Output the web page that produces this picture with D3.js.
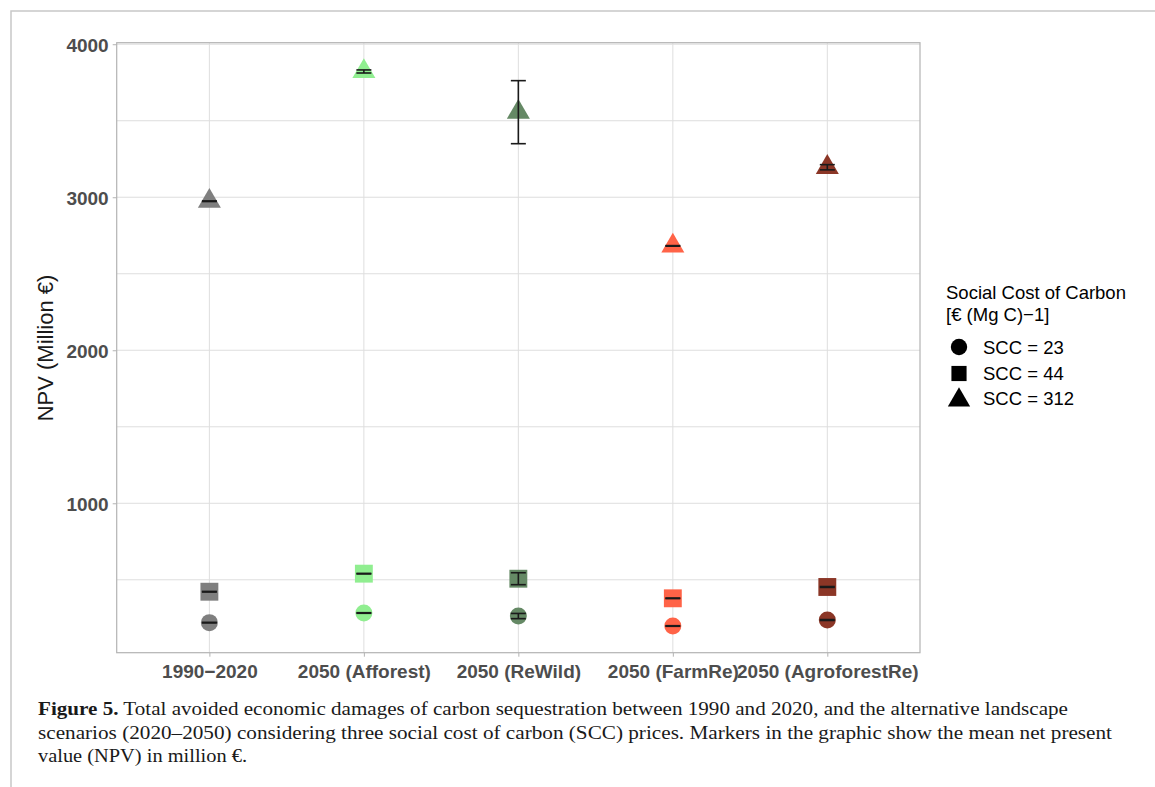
<!DOCTYPE html>
<html>
<head>
<meta charset="utf-8">
<script src="https://cdn.jsdelivr.net/npm/d3@7"></script>
<style>
  body { margin: 0; background: #fff; }
  svg { display: block; }
</style>
</head>
<body>
<div id="chart"></div>
<script>
// scenarios on the x axis and their marker colours
var scenarios = ["1990\u22122020", "2050 (Afforest)", "2050 (ReWild)", "2050 (FarmRe)", "2050 (AgroforestRe)"];
var scenarioColors = ["#7f7f7f", "#90ee90", "#658965", "#ff6347", "#8b3626"];

// mean NPV (million €) and spread, per SCC price
var npv23 = [220, 283, 263, 198, 237];
var err23 = [2, 2, 17, 2, 3];
var npv44 = [422, 540, 507, 379, 453];
var err44 = [2, 2, 39, 2, 3];
var npv312 = [2974, 3822, 3556, 2682, 3196];
var err312 = [2, 10, 206, 2, 17];

var sccLabels = ["SCC = 23", "SCC = 44", "SCC = 312"];
var yTicks = [1000, 2000, 3000, 4000];
var yMinor = [500, 1500, 2500, 3500];

var svgWidth = 1155;
var svgHeight = 787;

var margin = {
  top: 42.7,
  right: 235,
  bottom: 134.3,
  left: 116.7
};

var width = svgWidth - margin.left - margin.right;
var height = svgHeight - margin.top - margin.bottom;

var svg = d3.select("#chart")
  .append("svg")
  .attr("width", svgWidth)
  .attr("height", svgHeight);

// page frame lines
svg.append("path")
  .attr("d", `M11,${svgHeight} V11 H${svgWidth}`)
  .attr("fill", "none")
  .attr("stroke", "#c8c8c8")
  .attr("stroke-width", 1.5);

var chartGroup = svg.append("g")
  .attr("transform", `translate(${margin.left}, ${margin.top})`);

var xScale = d3.scalePoint()
  .domain(scenarios)
  .range([0, width])
  .padding(0.6);

var yScale = d3.scaleLinear()
  .domain([23.5, 4010])
  .range([height, 0]);

// gridlines
chartGroup.selectAll(".ygrid")
  .data(yMinor.concat(yTicks))
  .enter()
  .append("line")
  .attr("x1", 0)
  .attr("x2", width)
  .attr("y1", d => yScale(d))
  .attr("y2", d => yScale(d))
  .attr("stroke", "#dedede")
  .attr("stroke-width", 1);

chartGroup.selectAll(".xgrid")
  .data(scenarios)
  .enter()
  .append("line")
  .attr("x1", d => xScale(d))
  .attr("x2", d => xScale(d))
  .attr("y1", 0)
  .attr("y2", height)
  .attr("stroke", "#dedede")
  .attr("stroke-width", 1);

// axes
var leftAxis = d3.axisLeft(yScale).tickValues(yTicks).tickFormat(d3.format("d")).tickSize(4).tickPadding(4);
var bottomAxis = d3.axisBottom(xScale).tickSize(4).tickPadding(4);

var yAxis = chartGroup.append("g").call(leftAxis);
var xAxis = chartGroup.append("g")
  .attr("transform", `translate(0, ${height})`)
  .call(bottomAxis);

[yAxis, xAxis].forEach(function(ax) {
  ax.select(".domain").remove();
  ax.selectAll(".tick line").attr("stroke", "#b3b3b3");
  ax.selectAll(".tick text")
    .attr("fill", "#4d4d4d")
    .style("font-family", "'Liberation Sans', Arial, sans-serif")
    .style("font-size", "19px")
    .style("font-weight", "bold");
});
xAxis.selectAll(".tick text").attr("dy", "0.9em");
yAxis.selectAll(".tick text").attr("dy", "0.36em");

// panel border
chartGroup.append("rect")
  .attr("width", width)
  .attr("height", height)
  .attr("fill", "none")
  .attr("stroke", "#b3b3b3")
  .attr("stroke-width", 1.2);

// marker series
var series = [
  { values: npv23, errs: err23, symbol: d3.symbolCircle, size: 227 },
  { values: npv44, errs: err44, symbol: d3.symbolSquare, size: 320 },
  { values: npv312, errs: err312, symbol: d3.symbolTriangle, size: 229 }
];

series.forEach(function(s) {
  var rows = scenarios.map(function(name, i) {
    return { name: name, value: s.values[i], err: s.errs[i], color: scenarioColors[i] };
  });

  chartGroup.append("g")
    .selectAll("path")
    .data(rows)
    .enter()
    .append("path")
    .attr("transform", d => `translate(${xScale(d.name)}, ${yScale(d.value)})`)
    .attr("d", d3.symbol().type(s.symbol).size(s.size))
    .attr("fill", d => d.color);

  // error bars
  var bars = chartGroup.append("g")
    .selectAll("g")
    .data(rows)
    .enter()
    .append("g")
    .attr("stroke", "#1a1a1a")
    .attr("stroke-width", 1.6);

  bars.append("line")
    .attr("x1", d => xScale(d.name))
    .attr("x2", d => xScale(d.name))
    .attr("y1", d => yScale(d.value - d.err))
    .attr("y2", d => yScale(d.value + d.err));

  bars.append("line")
    .attr("x1", d => xScale(d.name) - 7.5)
    .attr("x2", d => xScale(d.name) + 7.5)
    .attr("y1", d => yScale(d.value - d.err))
    .attr("y2", d => yScale(d.value - d.err));

  bars.append("line")
    .attr("x1", d => xScale(d.name) - 7.5)
    .attr("x2", d => xScale(d.name) + 7.5)
    .attr("y1", d => yScale(d.value + d.err))
    .attr("y2", d => yScale(d.value + d.err));
});

// y axis title
svg.append("text")
  .attr("transform", `translate(53, 348) rotate(-90)`)
  .attr("text-anchor", "middle")
  .style("font-family", "'Liberation Sans', Arial, sans-serif")
  .style("font-size", "22px")
  .attr("fill", "#1a1a1a")
  .text("NPV (Million \u20ac)");

// legend
var legend = svg.append("g")
  .style("font-family", "'Liberation Sans', Arial, sans-serif")
  .style("font-size", "18.5px")
  .attr("fill", "#000");

legend.append("text").attr("x", 946).attr("y", 299).text("Social Cost of Carbon");
legend.append("text").attr("x", 946).attr("y", 321).text("[\u20ac (Mg C)\u22121]");

var legendSymbols = [d3.symbolCircle, d3.symbolSquare, d3.symbolTriangle];
var legendSizes = [210, 230, 215];
var legendY = [347, 373.5, 400];

sccLabels.forEach(function(label, i) {
  legend.append("path")
    .attr("transform", `translate(959, ${legendY[i]})`)
    .attr("d", d3.symbol().type(legendSymbols[i]).size(legendSizes[i]))
    .attr("fill", "#000");
  legend.append("text")
    .attr("x", 983)
    .attr("y", legendY[i] + 6.5 - (i === 2 ? 1.5 : 0))
    .text(label);
});

// caption
var captionLines = [
  { bold: "Figure 5.", rest: " Total avoided economic damages of carbon sequestration between 1990 and 2020, and the alternative landscape", end: 1068 },
  { bold: "", rest: "scenarios (2020\u20132050) considering three social cost of carbon (SCC) prices. Markers in the graphic show the mean net present", end: 1112 },
  { bold: "", rest: "value (NPV) in million \u20ac.", end: 247 }
];

captionLines.forEach(function(line, i) {
  var t = svg.append("text")
    .attr("x", 38)
    .attr("y", 715 + i * 23.5)
    .attr("textLength", line.end - 38)
    .attr("lengthAdjust", "spacingAndGlyphs")
    .style("font-family", "'Liberation Serif', 'DejaVu Serif', serif")
    .style("font-size", "19px")
    .attr("fill", "#1a1a1a");
  if (line.bold) t.append("tspan").style("font-weight", "bold").text(line.bold);
  t.append("tspan").text(line.rest);
});
</script>
</body>
</html>
